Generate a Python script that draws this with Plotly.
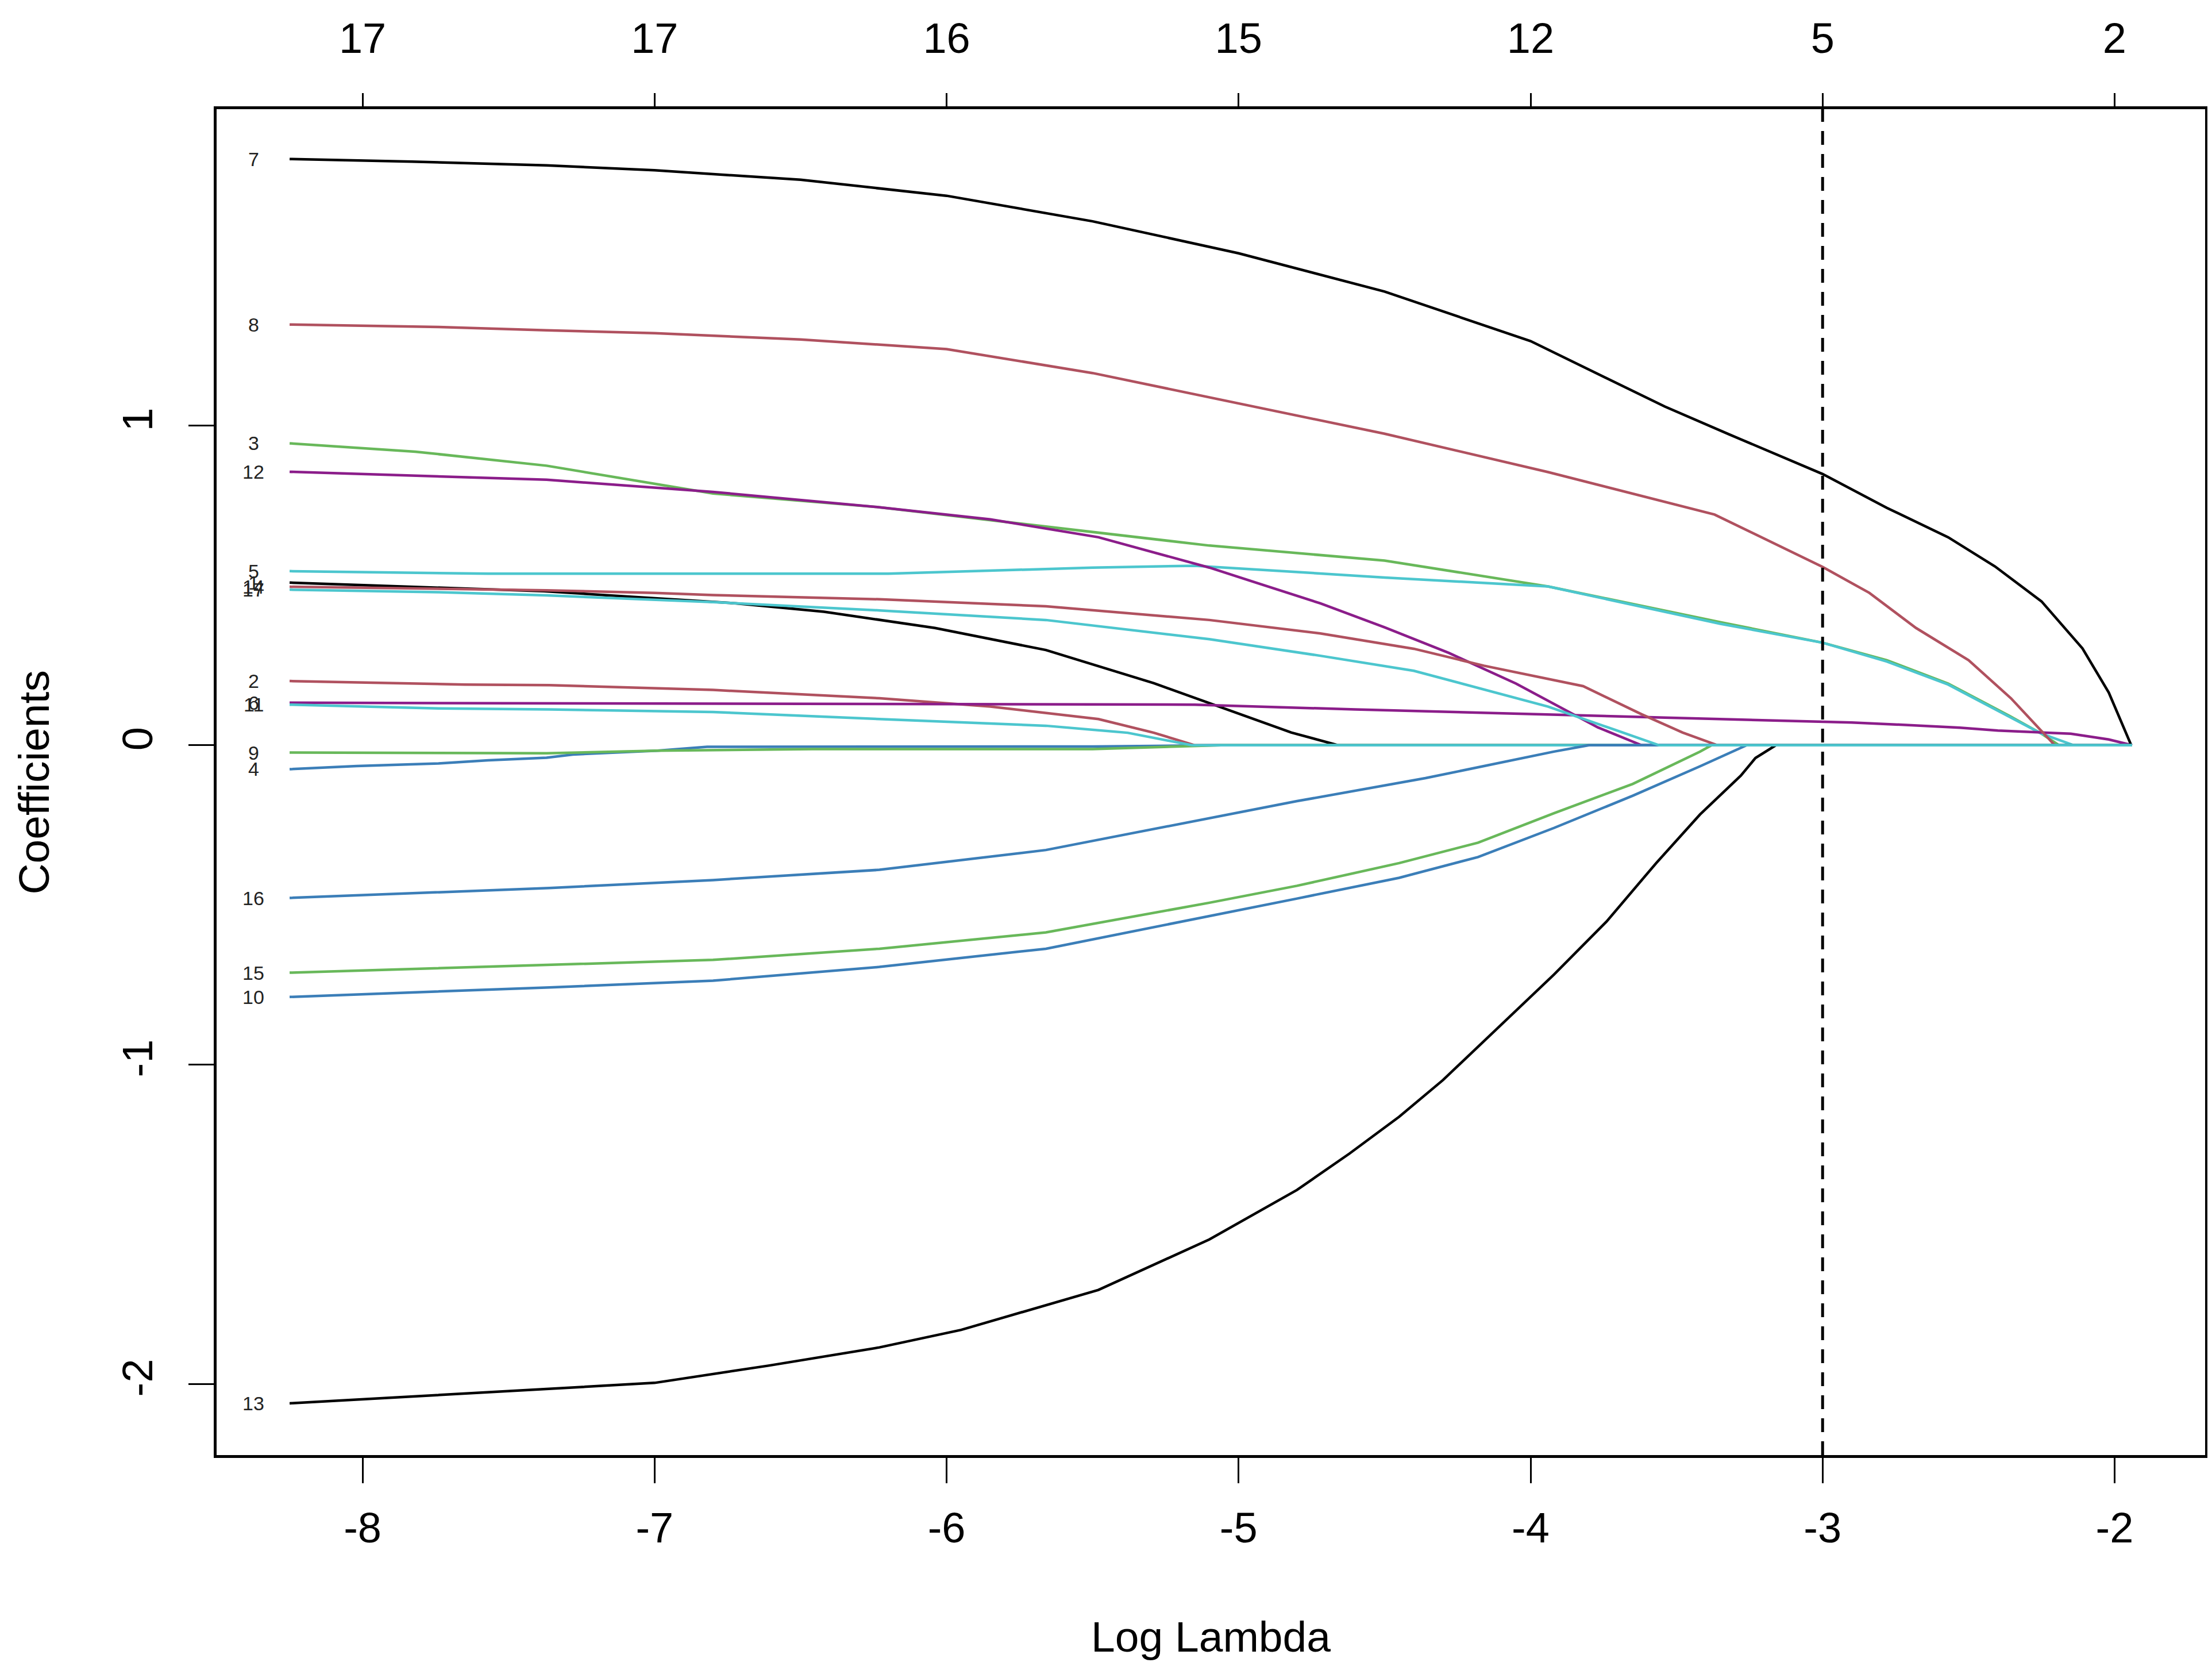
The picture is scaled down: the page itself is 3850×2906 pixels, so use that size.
import plotly.graph_objects as go

# glmnet coefficient paths (x = log lambda)
x_v1 = [-8.25, -7.94, -7.38, -6.72, -6.42, -6.04, -5.66, -5.29, -5.00, -4.82, -4.66, -1.94]
y_v1 = [0.509, 0.500, 0.482, 0.444, 0.418, 0.367, 0.298, 0.194, 0.100, 0.040, 0.0, 0.0]

x_v2 = [-8.25, -7.65, -7.36, -6.80, -6.23, -5.85, -5.48, -5.29, -5.15, -1.94]
y_v2 = [0.201, 0.190, 0.188, 0.173, 0.147, 0.121, 0.082, 0.039, 0.0, 0.0]

x_v3 = [-8.25, -7.82, -7.37, -6.80, -6.23, -5.66, -5.10, -4.50, -3.94, -3.35, -3.00, -2.78, -2.57, -2.36, -2.25, -2.19, -1.94]
y_v3 = [0.945, 0.919, 0.875, 0.788, 0.745, 0.685, 0.625, 0.578, 0.497, 0.385, 0.321, 0.266, 0.193, 0.092, 0.036, 0.0, 0.0]

x_v4 = [-8.25, -8.02, -7.74, -7.57, -7.37, -7.28, -6.99, -6.82, -5.50, -5.06, -1.94]
y_v4 = [-0.075, -0.065, -0.057, -0.047, -0.039, -0.029, -0.017, -0.005, -0.004, 0.0, 0.0]

x_v5 = [-8.25, -7.57, -6.20, -5.90, -5.50, -5.15, -4.90, -4.50, -3.94, -3.35, -3.00, -2.78, -2.57, -2.36, -2.25, -2.14, -1.94]
y_v5 = [0.545, 0.537, 0.537, 0.545, 0.556, 0.562, 0.548, 0.525, 0.497, 0.380, 0.321, 0.262, 0.190, 0.090, 0.036, 0.0, 0.0]

x_v6 = [-8.25, -6.50, -5.15, -4.60, -4.12, -3.75, -3.37, -3.10, -2.90, -2.75, -2.62, -2.53, -2.40, -2.15, -2.02, -1.94]
y_v6 = [0.133, 0.130, 0.127, 0.112, 0.101, 0.091, 0.082, 0.076, 0.071, 0.065, 0.060, 0.055, 0.046, 0.036, 0.018, 0.0]

x_v7 = [-8.25, -7.83, -7.37, -7.00, -6.50, -6.00, -5.50, -5.00, -4.50, -4.00, -3.54, -3.32, -3.00, -2.78, -2.57, -2.41, -2.25, -2.11, -2.02, -1.943]
y_v7 = [1.835, 1.827, 1.815, 1.800, 1.770, 1.720, 1.640, 1.540, 1.420, 1.265, 1.060, 0.973, 0.849, 0.743, 0.651, 0.560, 0.450, 0.303, 0.165, 0.0]

x_v8 = [-8.25, -7.74, -7.37, -7.00, -6.50, -6.00, -5.50, -5.00, -4.50, -3.94, -3.37, -3.00, -2.84, -2.68, -2.50, -2.355, -2.25, -2.205, -1.94]
y_v8 = [1.317, 1.309, 1.299, 1.290, 1.270, 1.240, 1.165, 1.070, 0.975, 0.855, 0.722, 0.558, 0.477, 0.367, 0.266, 0.147, 0.046, 0.0, 0.0]

x_v9 = [-8.25, -7.37, -6.99, -6.46, -5.50, -5.06, -1.94]
y_v9 = [-0.023, -0.025, -0.017, -0.012, -0.012, 0.0, 0.0]

x_v10 = [-8.25, -7.36, -6.80, -6.23, -5.66, -5.10, -4.80, -4.45, -4.18, -3.92, -3.65, -3.42, -3.26, -1.94]
y_v10 = [-0.788, -0.758, -0.737, -0.694, -0.637, -0.536, -0.480, -0.415, -0.350, -0.259, -0.158, -0.066, 0.0, 0.0]

x_v11 = [-8.25, -7.74, -7.36, -6.80, -6.23, -5.66, -5.38, -5.16, -1.94]
y_v11 = [0.127, 0.115, 0.112, 0.104, 0.082, 0.061, 0.039, 0.0, 0.0]

x_v12 = [-8.25, -7.94, -7.66, -7.37, -6.80, -6.23, -5.85, -5.48, -5.10, -4.72, -4.50, -4.28, -4.05, -3.87, -3.77, -3.62, -1.94]
y_v12 = [0.856, 0.847, 0.839, 0.831, 0.793, 0.745, 0.707, 0.651, 0.556, 0.444, 0.369, 0.289, 0.193, 0.105, 0.056, 0.0, 0.0]

x_v13 = [-8.25, -7.36, -7.00, -6.61, -6.23, -5.95, -5.48, -5.10, -4.80, -4.62, -4.45, -4.30, -4.09, -3.92, -3.74, -3.57, -3.42, -3.28, -3.23, -3.16, -1.94]
y_v13 = [-2.060, -2.013, -1.996, -1.942, -1.885, -1.830, -1.705, -1.547, -1.392, -1.278, -1.163, -1.048, -0.865, -0.718, -0.552, -0.369, -0.217, -0.095, -0.040, 0.0, 0.0]

x_v14 = [-8.25, -7.37, -7.00, -6.80, -6.23, -5.66, -5.10, -4.72, -4.40, -4.16, -3.82, -3.62, -3.48, -3.36, -1.94]
y_v14 = [0.496, 0.485, 0.477, 0.470, 0.457, 0.435, 0.392, 0.350, 0.302, 0.249, 0.185, 0.097, 0.040, 0.0, 0.0]

x_v15 = [-8.25, -7.36, -6.80, -6.23, -5.66, -5.10, -4.80, -4.45, -4.18, -3.92, -3.65, -3.42, -3.38, -1.94]
y_v15 = [-0.712, -0.687, -0.672, -0.637, -0.586, -0.493, -0.440, -0.369, -0.305, -0.213, -0.121, -0.020, 0.0, 0.0]

x_v16 = [-8.25, -7.36, -6.80, -6.23, -5.66, -5.10, -4.80, -4.36, -3.92, -3.80, -1.94]
y_v16 = [-0.478, -0.447, -0.422, -0.390, -0.328, -0.228, -0.175, -0.103, -0.020, 0.0, 0.0]

x_v17 = [-8.25, -7.74, -7.37, -6.80, -6.23, -5.66, -5.10, -4.72, -4.40, -3.94, -3.71, -3.56, -1.94]
y_v17 = [0.487, 0.479, 0.469, 0.448, 0.422, 0.392, 0.332, 0.280, 0.233, 0.121, 0.048, 0.0, 0.0]

paths = [
    ("1", x_v1, y_v1), ("2", x_v2, y_v2), ("3", x_v3, y_v3), ("4", x_v4, y_v4),
    ("5", x_v5, y_v5), ("6", x_v6, y_v6), ("7", x_v7, y_v7), ("8", x_v8, y_v8),
    ("9", x_v9, y_v9), ("10", x_v10, y_v10), ("11", x_v11, y_v11), ("12", x_v12, y_v12),
    ("13", x_v13, y_v13), ("14", x_v14, y_v14), ("15", x_v15, y_v15), ("16", x_v16, y_v16),
    ("17", x_v17, y_v17),
]

# R palette 1:6, as it looks in the picture
palette = ["#000000", "#B0515F", "#68B85A", "#3B7EB8", "#4CC6CE", "#8B1D8A"]

bottom_ticks = [-8, -7, -6, -5, -4, -3, -2]
bottom_labels = ["-8", "-7", "-6", "-5", "-4", "-3", "-2"]
top_labels = ["17", "17", "16", "15", "12", "5", "2"]   # number of nonzero coefficients
y_ticks = [-2, -1, 0, 1]
y_labels = ["-2", "-1", "0", "1"]
cv_log_lambda = -3
label_x = -8.374

fig = go.Figure()

for i, (name, xs, ys) in enumerate(paths):
    fig.add_trace(go.Scatter(x=xs, y=ys, mode="lines", name=name,
                             line=dict(color=palette[i % 6], width=4.5),
                             showlegend=False))
    fig.add_annotation(x=label_x, y=ys[0], text=name, showarrow=False,
                       font=dict(family="Liberation Sans", size=34, color="#222222"))

# helper trace so the top axis is drawn
fig.add_trace(go.Scatter(x=bottom_ticks, y=[0] * len(bottom_ticks), xaxis="x2",
                         mode="markers", marker=dict(opacity=0), hoverinfo="skip",
                         showlegend=False))

fig.add_vline(x=cv_log_lambda, line_dash="24px,16px", line_width=5, line_color="black")

tick_font = dict(family="Liberation Sans", size=74, color="black")

fig.update_layout(
    width=3850, height=2906,
    paper_bgcolor="white", plot_bgcolor="white",
    margin=dict(l=369, r=20, t=182, b=382),
    xaxis=dict(range=[-8.50, -1.69], tickvals=bottom_ticks, ticktext=bottom_labels,
               ticks="outside", ticklen=44, tickwidth=3, tickcolor="black",
               showline=True, linecolor="black", linewidth=5, mirror=True,
               showgrid=False, zeroline=False, tickfont=tick_font,
               ticklabelstandoff=14, automargin=False),
    xaxis2=dict(range=[-8.50, -1.69], overlaying="x", side="top",
                tickvals=bottom_ticks, ticktext=top_labels,
                ticks="outside", ticklen=27, tickwidth=3, tickcolor="black",
                showline=False, showgrid=False, zeroline=False, tickfont=tick_font,
                ticklabelstandoff=40, automargin=False),
    yaxis=dict(range=[-2.222, 1.991], tickvals=y_ticks, ticktext=y_labels,
               tickangle=-90, ticks="outside", ticklen=44, tickwidth=3, tickcolor="black",
               showline=True, linecolor="black", linewidth=5, mirror=True,
               showgrid=False, zeroline=False, tickfont=tick_font,
               ticklabelstandoff=33, automargin=False),
)

fig.add_annotation(text="Log Lambda", xref="paper", yref="paper", x=0.5, y=-0.135,
                   xanchor="center", yanchor="middle", showarrow=False,
                   font=dict(family="Liberation Sans", size=75, color="black"))
fig.add_annotation(text="Coefficients", xref="paper", yref="paper", x=-0.092, y=0.5,
                   xanchor="center", yanchor="middle", textangle=-90, showarrow=False,
                   font=dict(family="Liberation Sans", size=75, color="black"))

fig.write_html("out.html")
